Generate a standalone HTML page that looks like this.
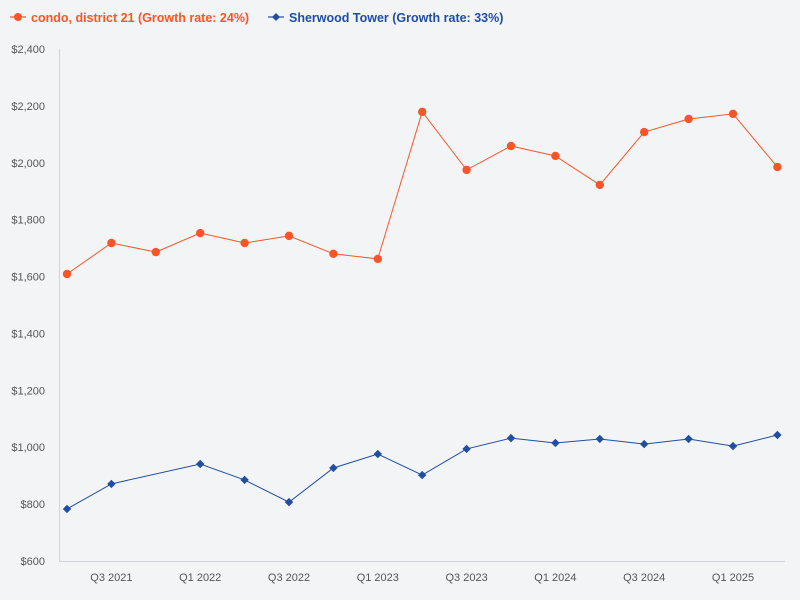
<!DOCTYPE html>
<html><head><meta charset="utf-8"><style>
body{margin:0;background:#f3f4f6;font-family:"Liberation Sans",sans-serif;}
svg{display:block}
</style></head><body>
<svg width="800" height="600">
<rect width="800" height="600" fill="#f3f4f6"/>
<g>
<g>
<line x1="10" y1="17" x2="26" y2="17" stroke="#fa5528" stroke-width="1.2"/><circle cx="18" cy="17" r="4" fill="#fa5528"/>
<text x="31" y="22" font-size="12.5" font-weight="bold" fill="#fa5528">condo, district 21 (Growth rate: 24%)</text></g>
<g>
<line x1="268" y1="17" x2="284" y2="17" stroke="#1f4ea3" stroke-width="1.2"/><path d="M276 13 L280 17 L276 21 L272 17Z" fill="#1f4ea3"/>
<text x="289" y="22" font-size="12.5" font-weight="bold" fill="#1f4ea3">Sherwood Tower (Growth rate: 33%)</text></g>
</g>
<g id="axes"></g><g id="marks"></g>
</svg>
<script>
const categories=["Q2 2021","Q3 2021","Q4 2021","Q1 2022","Q2 2022","Q3 2022","Q4 2022","Q1 2023","Q2 2023","Q3 2023","Q4 2023","Q1 2024","Q2 2024","Q3 2024","Q4 2024","Q1 2025","Q2 2025"];
const condoValues=[1609,1718,1686,1753,1718,1743,1680,1662,2179,1975,2059,2024,1922,2108,2154,2172,1985];
const sherwoodValues=[783,871,null,941,885,807,927,976,902,994,1032,1015,1029,1011,1029,1004,1043];
const yTicks=[600,800,1000,1200,1400,1600,1800,2000,2200,2400];
const xLabels=["Q3 2021","Q1 2022","Q3 2022","Q1 2023","Q3 2023","Q1 2024","Q3 2024","Q1 2025"];
const NS="http://www.w3.org/2000/svg";
const x=i=>67+i*44.4;
const y=v=>561-(v-600)*(512/1800);
const axes=document.getElementById('axes'),marks=document.getElementById('marks');
function mk(tag,attrs,parent){const e=document.createElementNS(NS,tag);for(const k in attrs)e.setAttribute(k,attrs[k]);parent.appendChild(e);return e;}
const ya=mk('line',{x1:59.5,y1:49,x2:59.5,y2:561,stroke:'#d0d4da'},axes);


const xa=mk('line',{x1:59,y1:561.5,x2:785,y2:561.5,stroke:'#d0d4da'},axes);


yTicks.forEach(t=>{const e=mk('text',{x:45,y:y(t)+4,'text-anchor':'end','font-size':11,fill:'#555'},axes);e.textContent='$'+t.toLocaleString('en-US');

});
xLabels.forEach(l=>{const i=categories.indexOf(l);const e=mk('text',{x:x(i),y:581,'text-anchor':'middle','font-size':11,fill:'#555'},axes);e.textContent=l;

});
function series(vals,color,shape,name){
 const pts=[];vals.forEach((v,i)=>{if(v!=null)pts.push([x(i),y(v)]);});
 const p=mk('polyline',{points:pts.map(p=>p.join(',')).join(' '),fill:'none',stroke:color,'stroke-width':1},marks);
 
 
 pts.forEach(([px,py])=>{let m;
  if(shape==='circle')m=mk('circle',{cx:px,cy:py,r:4.2,fill:color},marks);
  else m=mk('path',{d:`M${px} ${py-4.2}L${px+4.2} ${py}L${px} ${py+4.2}L${px-4.2} ${py}Z`,fill:color},marks);
  
  });
}
series(condoValues,'#fa5528','circle','condo');
series(sherwoodValues,'#1f4ea3','diamond','sherwood');
</script>
</body></html>
